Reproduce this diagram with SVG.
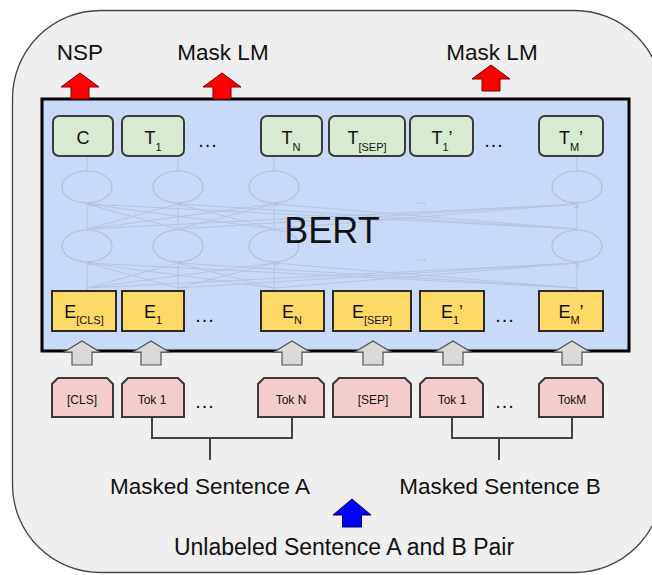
<svg xmlns="http://www.w3.org/2000/svg" width="652" height="575" viewBox="0 0 652 575">
<defs>
<style>
text{font-family:"Liberation Sans",Arial,sans-serif;fill:#111}
.lbl{font-size:22.5px;text-anchor:middle}
.tbox{fill:#d9ead3;stroke:#3a3a3a;stroke-width:2}
.ebox{fill:#ffd966;stroke:#2a2a2a;stroke-width:2}
.tok{fill:#f4cccc;stroke:#3a3a3a;stroke-width:2}
.bt{font-size:18px;text-anchor:middle}
.sub{font-size:11px}
.tk{font-size:12px;text-anchor:middle}
.dots{font-size:20px;text-anchor:middle;letter-spacing:1px}
.net{stroke:#aab6cc;stroke-width:1;fill:none;opacity:0.6}
.ell{stroke:#a9b4c8;stroke-width:1.2;fill:none;opacity:0.7}
.red{fill:#ff0000;stroke:#7a0000;stroke-width:1}
.gray{fill:#d9d9d9;stroke:#555;stroke-width:1.2}
.blue{fill:#0000ff;stroke:#000055;stroke-width:1}
.br{fill:none;stroke:#444;stroke-width:2}
</style>
<marker id="ah" viewBox="0 0 6 6" refX="5" refY="3" markerWidth="5" markerHeight="5" orient="auto">
<path d="M0,0 L6,3 L0,6 Z" fill="#aab6cc"/>
</marker>
<path id="redArrow" d="M0,0 L19,14 L9,14 L9,26 L-9,26 L-9,14 L-19,14 Z"/>
<path id="grayArrow" d="M0,0 L18,11 L10,11 L10,24 L-10,24 L-10,11 L-18,11 Z"/>
</defs>

<g id="frame">
<rect x="12.5" y="10.5" width="650" height="562" rx="88" ry="88" fill="#efefef" stroke="#444" stroke-width="1.3"/>
</g>

<g id="bert">
<rect x="42" y="99" width="587" height="252" fill="#c9daf8" stroke="#000" stroke-width="3"/>
<g id="network">
<g class="ell">
<ellipse cx="87" cy="187" rx="25" ry="16"/>
<ellipse cx="178" cy="187" rx="25" ry="16"/>
<ellipse cx="274" cy="187" rx="25" ry="16"/>
<ellipse cx="577" cy="187" rx="25" ry="16"/>
<ellipse cx="87" cy="246" rx="25" ry="16"/>
<ellipse cx="178" cy="246" rx="25" ry="16"/>
<ellipse cx="274" cy="246" rx="25" ry="16"/>
<ellipse cx="577" cy="246" rx="25" ry="16"/>
</g>
<g class="net">
<path d="M87,171V157M178,171V157M274,171V157M577,171V157"/>
<path d="M87,291V288M178,291V288M274,291V288M577,291V288"/>
<path d="M87,288L87,263M178,288L87,263M274,288L87,263M577,288L87,263" marker-end="url(#ah)"/>
<path d="M87,288L178,263M178,288L178,263M274,288L178,263M577,288L178,263" marker-end="url(#ah)"/>
<path d="M87,288L274,263M178,288L274,263M274,288L274,263M577,288L274,263" marker-end="url(#ah)"/>
<path d="M87,288L577,263M178,288L577,263M274,288L577,263M577,288L577,263" marker-end="url(#ah)"/>
<path d="M87,229L87,204M178,229L87,204M274,229L87,204M577,229L87,204" marker-end="url(#ah)"/>
<path d="M87,229L178,204M178,229L178,204M274,229L178,204M577,229L178,204" marker-end="url(#ah)"/>
<path d="M87,229L274,204M178,229L274,204M274,229L274,204M577,229L274,204" marker-end="url(#ah)"/>
<path d="M87,229L577,204M178,229L577,204M274,229L577,204M577,229L577,204" marker-end="url(#ah)"/>
</g>
<text x="421" y="204" font-size="12" text-anchor="middle" style="fill:#a9b4c8">...</text>
<text x="421" y="261" font-size="12" text-anchor="middle" style="fill:#a9b4c8">...</text>
</g>
<text x="332" y="243" font-size="36" text-anchor="middle">BERT</text>
</g>

<g id="out-C"><rect class="tbox" x="53" y="116" width="60" height="40" rx="6"/><text class="bt" x="83" y="144">C</text></g>
<g id="out-T1"><rect class="tbox" x="122" y="116" width="62" height="40" rx="6"/><text class="bt" x="153" y="144">T<tspan class="sub" dy="7">1</tspan></text></g>
<g id="out-TN"><rect class="tbox" x="261" y="116" width="61" height="40" rx="6"/><text class="bt" x="291" y="144">T<tspan class="sub" dy="7">N</tspan></text></g>
<g id="out-TSEP"><rect class="tbox" x="329" y="116" width="76" height="40" rx="6"/><text class="bt" x="367" y="144">T<tspan class="sub" dy="7">[SEP]</tspan></text></g>
<g id="out-T1p"><rect class="tbox" x="410" y="116" width="63" height="40" rx="6"/><text class="bt" x="442" y="144">T<tspan class="sub" dy="7">1</tspan><tspan dy="-7">’</tspan></text></g>
<g id="out-TMp"><rect class="tbox" x="539" y="116" width="64" height="40" rx="6"/><text class="bt" x="571" y="144">T<tspan class="sub" dy="7">M</tspan><tspan dy="-7">’</tspan></text></g>
<text class="dots" x="208" y="147">...</text>
<text class="dots" x="494" y="147">...</text>

<g id="emb-CLS"><rect class="ebox" x="52" y="291" width="64" height="40"/><text class="bt" x="84" y="318">E<tspan class="sub" dy="6">[CLS]</tspan></text></g>
<g id="emb-1"><rect class="ebox" x="122" y="291" width="62" height="40"/><text class="bt" x="153" y="318">E<tspan class="sub" dy="6">1</tspan></text></g>
<g id="emb-N"><rect class="ebox" x="261" y="291" width="63" height="40"/><text class="bt" x="292" y="318">E<tspan class="sub" dy="6">N</tspan></text></g>
<g id="emb-SEP"><rect class="ebox" x="333" y="291" width="78" height="40"/><text class="bt" x="372" y="318">E<tspan class="sub" dy="6">[SEP]</tspan></text></g>
<g id="emb-1p"><rect class="ebox" x="420" y="291" width="64" height="40"/><text class="bt" x="452" y="318">E<tspan class="sub" dy="6">1</tspan><tspan dy="-6">’</tspan></text></g>
<g id="emb-Mp"><rect class="ebox" x="539" y="291" width="64" height="40"/><text class="bt" x="571" y="318">E<tspan class="sub" dy="6">M</tspan><tspan dy="-6">’</tspan></text></g>
<text class="dots" x="205" y="322">...</text>
<text class="dots" x="505" y="322">...</text>

<g id="tok-CLS"><path class="tok" d="M52,417V384L58,378H107L113,384V417Z"/><text class="tk" x="82" y="404">[CLS]</text></g>
<g id="tok-1"><path class="tok" d="M122,417V384L128,378H178L184,384V417Z"/><text class="tk" x="152" y="404">Tok 1</text></g>
<g id="tok-N"><path class="tok" d="M258,417V384L264,378H318L324,384V417Z"/><text class="tk" x="291" y="404">Tok N</text></g>
<g id="tok-SEP"><path class="tok" d="M333,417V384L339,378H405L411,384V417Z"/><text class="tk" x="373" y="404">[SEP]</text></g>
<g id="tok-1p"><path class="tok" d="M420,417V384L426,378H477L483,384V417Z"/><text class="tk" x="452" y="404">Tok 1</text></g>
<g id="tok-M"><path class="tok" d="M539,417V384L545,378H597L603,384V417Z"/><text class="tk" x="572" y="404">TokM</text></g>
<text class="dots" x="205" y="408">...</text>
<text class="dots" x="505" y="408">...</text>

<g id="connectors">
<use href="#redArrow" class="red" transform="translate(80,73)"/>
<use href="#redArrow" class="red" transform="translate(222,73)"/>
<use href="#redArrow" class="red" transform="translate(491,65)"/>
<use href="#grayArrow" class="gray" transform="translate(82,341)"/>
<use href="#grayArrow" class="gray" transform="translate(151,341)"/>
<use href="#grayArrow" class="gray" transform="translate(292,341)"/>
<use href="#grayArrow" class="gray" transform="translate(373,341)"/>
<use href="#grayArrow" class="gray" transform="translate(453,341)"/>
<use href="#grayArrow" class="gray" transform="translate(572,341)"/>
<path class="br" d="M152,418V438H292V418M210,438V460"/>
<path class="br" d="M452,418V438H572V418M499,438V460"/>
<path class="blue" d="M352,499L371,515H361.5V527H342.5V515H333Z"/>
</g>

<g id="labels">
<text class="lbl" x="80" y="60">NSP</text>
<text class="lbl" x="223" y="60">Mask LM</text>
<text class="lbl" x="492" y="60">Mask LM</text>
<text class="lbl" x="210" y="494">Masked Sentence A</text>
<text class="lbl" x="500" y="494">Masked Sentence B</text>
<text x="344" y="555" font-size="23" text-anchor="middle">Unlabeled Sentence A and B Pair</text>
</g>
</svg>
